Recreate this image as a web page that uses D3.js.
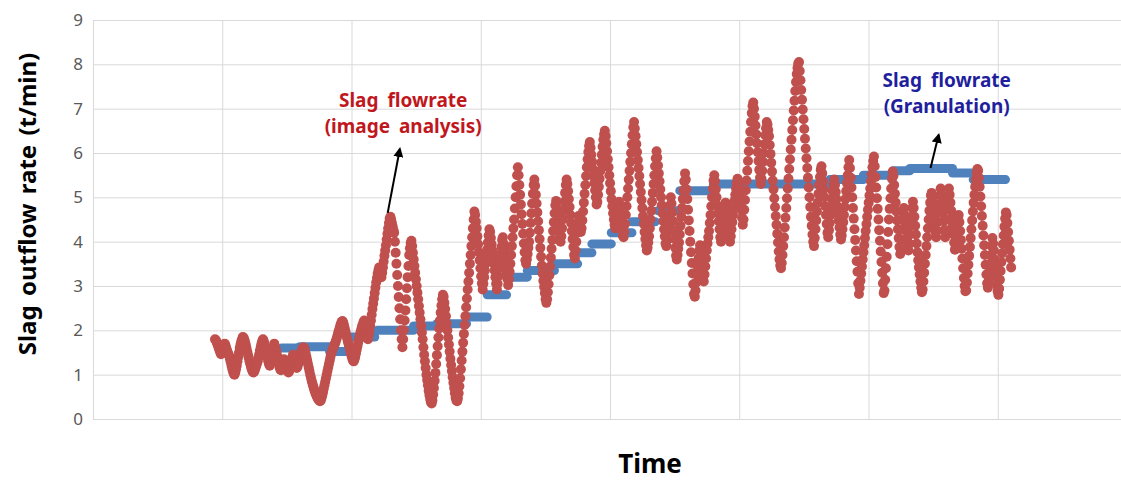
<!DOCTYPE html>
<html>
<head>
<meta charset="utf-8">
<script src="https://cdn.jsdelivr.net/npm/d3@7"></script>
<style>
  body { margin: 0; background: #fff; }
  svg { display: block; font-family: "Noto Sans", "Open Sans", sans-serif; }
</style>
</head>
<body>
<div id="chart"></div>
<script>
// Graduations de l'axe y
let yTicks = [0, 1, 2, 3, 4, 5, 6, 7, 8, 9];
let xGrid = [0, 1, 2, 3, 4, 5, 6, 7];

// Débit mesuré par granulation : paliers (début, fin, valeur)
let blueStart = [1.46, 1.60, 1.83, 1.99, 2.20, 2.48, 2.66, 2.89, 3.05, 3.20, 3.36, 3.57, 3.75,
  3.86, 4.01, 4.17, 4.37, 4.54, 4.80, 5.70, 5.96, 6.19, 6.32, 6.65, 6.81];
let blueEnd = [1.60, 1.83, 1.97, 2.18, 2.48, 2.66, 2.89, 3.05, 3.20, 3.36, 3.57, 3.75, 3.86,
  4.01, 4.17, 4.35, 4.52, 4.80, 5.70, 5.96, 6.19, 6.32, 6.65, 6.81, 7.06];
let blueValue = [1.60, 1.63, 1.52, 1.85, 2.0, 2.1, 2.15, 2.3, 2.8, 3.2, 3.35, 3.5, 3.75,
  3.95, 4.2, 4.45, 4.7, 5.15, 5.3, 5.4, 5.5, 5.6, 5.65, 5.55, 5.4];

// Débit mesuré par analyse d'image (pas de temps constant)
let redStart = 0.944;
let redStep = 0.0058;
let redValue = [
  1.8, 1.78, 1.74, 1.7, 1.65, 1.6, 1.55, 1.5, 1.46, 1.5, 1.56, 1.62, 1.68, 1.7, 1.66, 1.6, 1.55, 1.5, 1.46, 1.42,
  1.35, 1.28, 1.2, 1.13, 1.07, 1.02, 1.0, 1.05, 1.12, 1.2, 1.3, 1.4, 1.5, 1.6, 1.68, 1.75, 1.8, 1.85, 1.84, 1.8,
  1.74, 1.68, 1.6, 1.52, 1.45, 1.38, 1.3, 1.24, 1.18, 1.12, 1.08, 1.05, 1.06, 1.1, 1.15, 1.2, 1.25, 1.3, 1.38, 1.46,
  1.55, 1.63, 1.7, 1.76, 1.8, 1.76, 1.7, 1.62, 1.54, 1.46, 1.38, 1.3, 1.24, 1.2, 1.25, 1.33, 1.42, 1.52, 1.62, 1.7,
  1.64, 1.57, 1.5, 1.42, 1.34, 1.26, 1.18, 1.12, 1.1, 1.15, 1.22, 1.3, 1.35, 1.3, 1.24, 1.18, 1.12, 1.08, 1.05, 1.08,
  1.14, 1.22, 1.3, 1.38, 1.45, 1.4, 1.33, 1.26, 1.2, 1.15, 1.18, 1.24, 1.32, 1.4, 1.46, 1.52, 1.56, 1.6, 1.62, 1.6,
  1.54, 1.47, 1.4, 1.32, 1.24, 1.16, 1.08, 1.0, 0.93, 0.86, 0.8, 0.74, 0.68, 0.63, 0.58, 0.54, 0.5, 0.47, 0.44, 0.42,
  0.4, 0.42, 0.47, 0.53, 0.6, 0.68, 0.76, 0.84, 0.92, 1.0, 1.08, 1.16, 1.24, 1.32, 1.4, 1.47, 1.53, 1.58, 1.62, 1.66,
  1.7, 1.75, 1.8, 1.86, 1.92, 1.98, 2.04, 2.1, 2.15, 2.19, 2.21, 2.18, 2.12, 2.05, 1.98, 1.9, 1.83, 1.76, 1.7, 1.64,
  1.57, 1.5, 1.43, 1.37, 1.32, 1.3, 1.34, 1.4, 1.48, 1.56, 1.64, 1.72, 1.8, 1.88, 1.95, 2.02, 2.08, 2.13, 2.18, 2.22,
  2.15, 2.05, 1.95, 1.86, 1.8, 1.88, 1.98, 2.1, 2.22, 2.35, 2.48, 2.6, 2.72, 2.84, 2.96, 3.08, 3.18, 3.28, 3.36, 3.42,
  3.36, 3.28, 3.2, 3.3, 3.42, 3.55, 3.68, 3.8, 3.92, 4.05, 4.18, 4.3, 4.42, 4.52, 4.56, 4.5, 4.42, 4.34, 4.26, 4.2,
  4.0, 3.75, 3.5, 3.25, 3.0, 2.75, 2.5, 2.25, 2.0, 1.8, 1.62, 1.8, 2.0, 2.22, 2.45, 2.7, 2.95, 3.2, 3.45, 3.7,
  3.85, 3.97, 4.02, 3.9, 3.75, 3.6, 3.45, 3.3, 3.15, 3.0, 2.85, 2.7, 2.55, 2.4, 2.25, 2.1, 1.95, 1.8, 1.62, 1.45,
  1.3, 1.15, 1.0, 0.88, 0.76, 0.64, 0.54, 0.45, 0.38, 0.35, 0.42, 0.55, 0.7, 0.86, 1.04, 1.24, 1.44, 1.64, 1.84, 2.04,
  2.22, 2.4, 2.56, 2.7, 2.8, 2.76, 2.62, 2.48, 2.32, 2.16, 2.0, 1.84, 1.68, 1.52, 1.36, 1.22, 1.08, 0.94, 0.82, 0.7,
  0.58, 0.48, 0.42, 0.4, 0.46, 0.58, 0.74, 0.92, 1.12, 1.32, 1.52, 1.72, 1.92, 2.12, 2.32, 2.52, 2.72, 2.92, 3.1, 3.3,
  3.5, 3.7, 3.9, 4.1, 4.3, 4.5, 4.68, 4.6, 4.45, 4.3, 4.12, 3.94, 3.76, 3.58, 3.4, 3.22, 3.06, 2.92, 3.05, 3.2,
  3.35, 3.5, 3.66, 3.82, 3.98, 4.14, 4.28, 4.22, 4.08, 3.94, 3.8, 3.65, 3.5, 3.35, 3.2, 3.05, 2.92, 3.05, 3.22, 3.4,
  3.56, 3.72, 3.88, 4.04, 4.1, 3.96, 3.8, 3.64, 3.48, 3.32, 3.16, 3.02, 3.15, 3.32, 3.5, 3.7, 3.9, 4.1, 4.3, 4.5,
  4.75, 5.0, 5.25, 5.5, 5.68, 5.5, 5.28, 5.06, 4.84, 4.62, 4.4, 4.18, 3.96, 3.76, 3.58, 3.5, 3.6, 3.72, 3.86, 4.0,
  4.2, 4.42, 4.64, 4.86, 5.08, 5.28, 5.4, 5.26, 5.06, 4.86, 4.66, 4.46, 4.26, 4.06, 3.86, 3.66, 3.46, 3.28, 3.12, 2.98,
  2.84, 2.7, 2.62, 2.7, 2.86, 3.04, 3.24, 3.44, 3.64, 3.84, 4.04, 4.24, 4.44, 4.64, 4.82, 4.92, 4.76, 4.58, 4.4, 4.24,
  4.1, 4.0, 4.12, 4.3, 4.5, 4.7, 4.9, 5.1, 5.28, 5.4, 5.3, 5.14, 4.96, 4.78, 4.6, 4.42, 4.24, 4.06, 3.88, 3.7,
  3.62, 3.8, 4.0, 4.2, 4.4, 4.58, 4.5, 4.36, 4.22, 4.3, 4.48, 4.68, 4.88, 5.08, 5.28, 5.48, 5.68, 5.86, 6.02, 6.16,
  6.25, 6.12, 5.96, 5.8, 5.64, 5.48, 5.32, 5.16, 5.0, 4.84, 4.9, 5.06, 5.24, 5.42, 5.6, 5.78, 5.96, 6.14, 6.3, 6.42,
  6.5, 6.38, 6.22, 6.04, 5.86, 5.68, 5.5, 5.32, 5.14, 4.96, 4.8, 4.64, 4.5, 4.38, 4.3, 4.4, 4.52, 4.66, 4.8, 4.9,
  4.76, 4.6, 4.44, 4.28, 4.14, 4.1, 4.22, 4.4, 4.6, 4.8, 5.0, 5.2, 5.4, 5.6, 5.8, 6.0, 6.2, 6.4, 6.58, 6.7,
  6.55, 6.38, 6.2, 6.02, 5.84, 5.66, 5.48, 5.3, 5.12, 4.94, 4.76, 4.58, 4.4, 4.22, 4.06, 3.92, 3.8, 3.86, 3.98, 4.12,
  4.3, 4.5, 4.7, 4.9, 5.1, 5.3, 5.5, 5.7, 5.88, 6.04, 5.9, 5.72, 5.54, 5.36, 5.18, 5.0, 4.82, 4.64, 4.46, 4.28,
  4.12, 3.96, 3.9, 4.04, 4.22, 4.42, 4.62, 4.82, 5.0, 4.86, 4.66, 4.46, 4.26, 4.06, 3.86, 3.68, 3.6, 3.7, 3.84, 3.98,
  4.16, 4.36, 4.56, 4.76, 4.96, 5.16, 5.36, 5.54, 5.4, 5.18, 4.96, 4.72, 4.48, 4.24, 4.0, 3.76, 3.52, 3.28, 3.04, 2.82,
  2.76, 2.9, 3.08, 3.26, 3.44, 3.62, 3.8, 3.92, 3.76, 3.56, 3.36, 3.16, 3.1, 3.26, 3.44, 3.62, 3.8, 3.96, 4.1, 4.24,
  4.42, 4.6, 4.8, 5.0, 5.2, 5.38, 5.5, 5.36, 5.18, 5.0, 4.82, 4.64, 4.46, 4.28, 4.1, 4.0, 4.12, 4.28, 4.44, 4.6,
  4.74, 4.88, 4.8, 4.62, 4.44, 4.26, 4.08, 4.0, 4.12, 4.28, 4.44, 4.6, 4.76, 4.92, 5.06, 5.2, 5.32, 5.42, 5.36, 5.24,
  5.08, 4.9, 4.72, 4.54, 4.38, 4.5, 4.72, 4.94, 5.16, 5.38, 5.6, 5.82, 6.04, 6.26, 6.48, 6.7, 6.9, 7.06, 7.14, 7.0,
  6.82, 6.62, 6.42, 6.22, 6.02, 5.82, 5.62, 5.44, 5.3, 5.42, 5.6, 5.8, 6.0, 6.2, 6.4, 6.56, 6.7, 6.64, 6.52, 6.38,
  6.18, 5.98, 5.78, 5.58, 5.38, 5.18, 4.98, 4.78, 4.58, 4.38, 4.18, 3.98, 3.78, 3.6, 3.46, 3.4, 3.52, 3.7, 3.9, 4.1,
  4.32, 4.54, 4.76, 4.98, 5.2, 5.42, 5.64, 5.86, 6.08, 6.3, 6.52, 6.74, 6.96, 7.18, 7.4, 7.6, 7.78, 7.92, 8.02, 8.05,
  7.85, 7.64, 7.42, 7.2, 6.98, 6.76, 6.54, 6.32, 6.1, 5.88, 5.66, 5.44, 5.22, 5.0, 4.78, 4.56, 4.36, 4.16, 4.0, 3.9,
  4.08, 4.28, 4.48, 4.68, 4.88, 5.08, 5.28, 5.46, 5.62, 5.7, 5.54, 5.36, 5.18, 5.0, 4.8, 4.6, 4.4, 4.2, 4.1, 4.26,
  4.42, 4.6, 4.78, 4.96, 5.14, 5.3, 5.4, 5.28, 5.12, 4.96, 4.8, 4.64, 4.48, 4.32, 4.16, 4.05, 4.14, 4.28, 4.44, 4.6,
  4.78, 4.96, 5.14, 5.32, 5.5, 5.68, 5.84, 5.66, 5.44, 5.22, 5.0, 4.76, 4.52, 4.28, 4.04, 3.8, 3.56, 3.32, 3.06, 2.82,
  2.96, 3.12, 3.28, 3.44, 3.6, 3.76, 3.92, 4.08, 4.24, 4.4, 4.56, 4.72, 4.88, 5.04, 5.2, 5.36, 5.52, 5.68, 5.82, 5.92,
  5.7, 5.46, 5.22, 4.98, 4.74, 4.5, 4.26, 4.02, 3.78, 3.54, 3.3, 3.06, 2.84, 2.9, 3.14, 3.4, 3.66, 3.94, 4.22, 4.5,
  4.74, 4.98, 5.2, 5.42, 5.58, 5.48, 5.28, 5.08, 4.88, 4.68, 4.48, 4.28, 4.08, 3.88, 3.72, 3.82, 4.04, 4.28, 4.52, 4.76,
  4.6, 4.42, 4.24, 4.06, 3.88, 3.8, 3.96, 4.16, 4.36, 4.56, 4.76, 4.9, 4.76, 4.56, 4.36, 4.16, 3.96, 3.76, 3.58, 3.42,
  3.26, 3.1, 2.96, 2.86, 2.92, 3.1, 3.3, 3.5, 3.7, 3.9, 4.1, 4.3, 4.5, 4.7, 4.88, 5.04, 5.1, 4.94, 4.74, 4.54,
  4.38, 4.22, 4.1, 4.24, 4.44, 4.64, 4.84, 5.04, 5.2, 5.06, 4.86, 4.66, 4.46, 4.26, 4.1, 4.26, 4.5, 4.74, 4.98, 5.2,
  5.06, 4.88, 4.7, 4.52, 4.34, 4.16, 3.98, 3.82, 3.9, 4.1, 4.3, 4.5, 4.6, 4.44, 4.24, 4.04, 3.84, 3.62, 3.4, 3.18,
  3.0, 2.88, 2.9, 3.08, 3.28, 3.48, 3.68, 3.88, 4.08, 4.28, 4.48, 4.68, 4.88, 5.06, 5.24, 5.4, 5.54, 5.64, 5.6, 5.44,
  5.24, 5.02, 4.8, 4.58, 4.36, 4.14, 3.92, 3.7, 3.48, 3.26, 3.06, 2.96, 3.1, 3.3, 3.5, 3.7, 3.9, 4.08, 3.96, 3.8,
  3.6, 3.4, 3.2, 3.02, 2.88, 2.8, 2.94, 3.14, 3.34, 3.54, 3.74, 3.94, 4.14, 4.34, 4.52, 4.66, 4.6, 4.42, 4.22, 4.02,
  3.82, 3.62, 3.42
];

let width = 1121;
let height = 482;

let svg = d3
  .select("#chart")
  .append("svg")
  .attr("width", width)
  .attr("height", height);

// Echelles
let x = d3.scaleLinear().domain([0, 8]).range([93, 1127]);
let y = d3.scaleLinear().domain([0, 9]).range([419, 20]);

// Découpe de la zone de tracé au bord de la fenêtre
svg.append("clipPath").attr("id", "plot")
  .append("rect")
  .attr("x", x(0)).attr("y", 0)
  .attr("width", width - x(0)).attr("height", height);

// Grille horizontale + étiquettes de l'axe y
let yAxis = svg
  .append("g")
  .attr("transform", "translate(" + x(0) + ",0)")
  .call(d3.axisLeft(y).tickValues(yTicks).tickSize(-(width - x(0))).tickPadding(10));
yAxis.select(".domain").remove();
yAxis.selectAll(".tick line").attr("stroke", "#d9d9d9");
yAxis.selectAll(".tick text")
  .attr("fill", "#595959")
  .style("font-size", "17px")
  .style("font-family", "'Noto Sans', sans-serif");

// Grille verticale
svg.append("g")
  .selectAll("line")
  .data(xGrid)
  .join("line")
  .attr("x1", d => x(d) + 0.5)
  .attr("x2", d => x(d) + 0.5)
  .attr("y1", y(9))
  .attr("y2", y(0))
  .attr("stroke", "#d9d9d9");

let plot = svg.append("g").attr("clip-path", "url(#plot)");

// Série bleue : paliers épais
plot.append("g")
  .selectAll("line")
  .data(blueValue)
  .join("line")
  .attr("x1", (d, i) => x(blueStart[i]))
  .attr("x2", (d, i) => x(blueEnd[i]))
  .attr("y1", d => y(d))
  .attr("y2", d => y(d))
  .attr("stroke", "#4f81bd")
  .attr("stroke-width", 9)
  .attr("stroke-linecap", "round");

// Série rouge : points
plot.append("g")
  .selectAll("circle")
  .data(redValue)
  .join("circle")
  .attr("cx", (d, i) => x(redStart + i * redStep))
  .attr("cy", d => y(d))
  .attr("r", 5)
  .attr("fill", "#c0504d");

// Flèches d'annotation
svg.append("defs")
  .append("marker")
  .attr("id", "head")
  .attr("viewBox", "0 0 10 10")
  .attr("refX", 8)
  .attr("refY", 5)
  .attr("markerWidth", 5)
  .attr("markerHeight", 5)
  .attr("orient", "auto")
  .append("path")
  .attr("d", "M0,0 L10,5 L0,10 z")
  .attr("fill", "#000");

let notes = [
  { lines: ["Slag flowrate", "(image analysis)"], t: 2.40, v: 7.04, color: "#c0171d",
    from: [2.28, 4.65], to: [2.374, 6.09] },
  { lines: ["Slag flowrate", "(Granulation)"], t: 6.605, v: 7.49, color: "#1f1f9e",
    from: [6.48, 5.66], to: [6.543, 6.41] }
];

notes.forEach(n => {
  svg.append("line")
    .attr("x1", x(n.from[0]))
    .attr("y1", y(n.from[1]))
    .attr("x2", x(n.to[0]))
    .attr("y2", y(n.to[1]))
    .attr("stroke", "#000")
    .attr("stroke-width", 2)
    .attr("marker-end", "url(#head)");

  let txt = svg.append("text")
    .attr("x", x(n.t))
    .attr("y", y(n.v))
    .attr("fill", n.color)
    .style("font-size", "19px")
    .style("font-weight", "bold")
    .style("word-spacing", "4px")
    .style("text-anchor", "middle");
  n.lines.forEach((l, i) => {
    txt.append("tspan")
      .attr("x", x(n.t))
      .attr("dy", i === 0 ? 0 : 26)
      .text(l);
  });
});

// Titres des axes
svg.append("text")
  .attr("x", 650)
  .attr("y", 473)
  .text("Time")
  .style("font-size", "26px")
  .style("font-weight", "bold")
  .style("text-anchor", "middle");

svg.append("text")
  .attr("transform", "translate(36,204) rotate(-90)")
  .text("Slag outflow rate (t/min)")
  .style("font-size", "24px")
  .style("font-weight", "bold")
  .style("word-spacing", "3px")
  .style("text-anchor", "middle");
</script>
</body>
</html>
